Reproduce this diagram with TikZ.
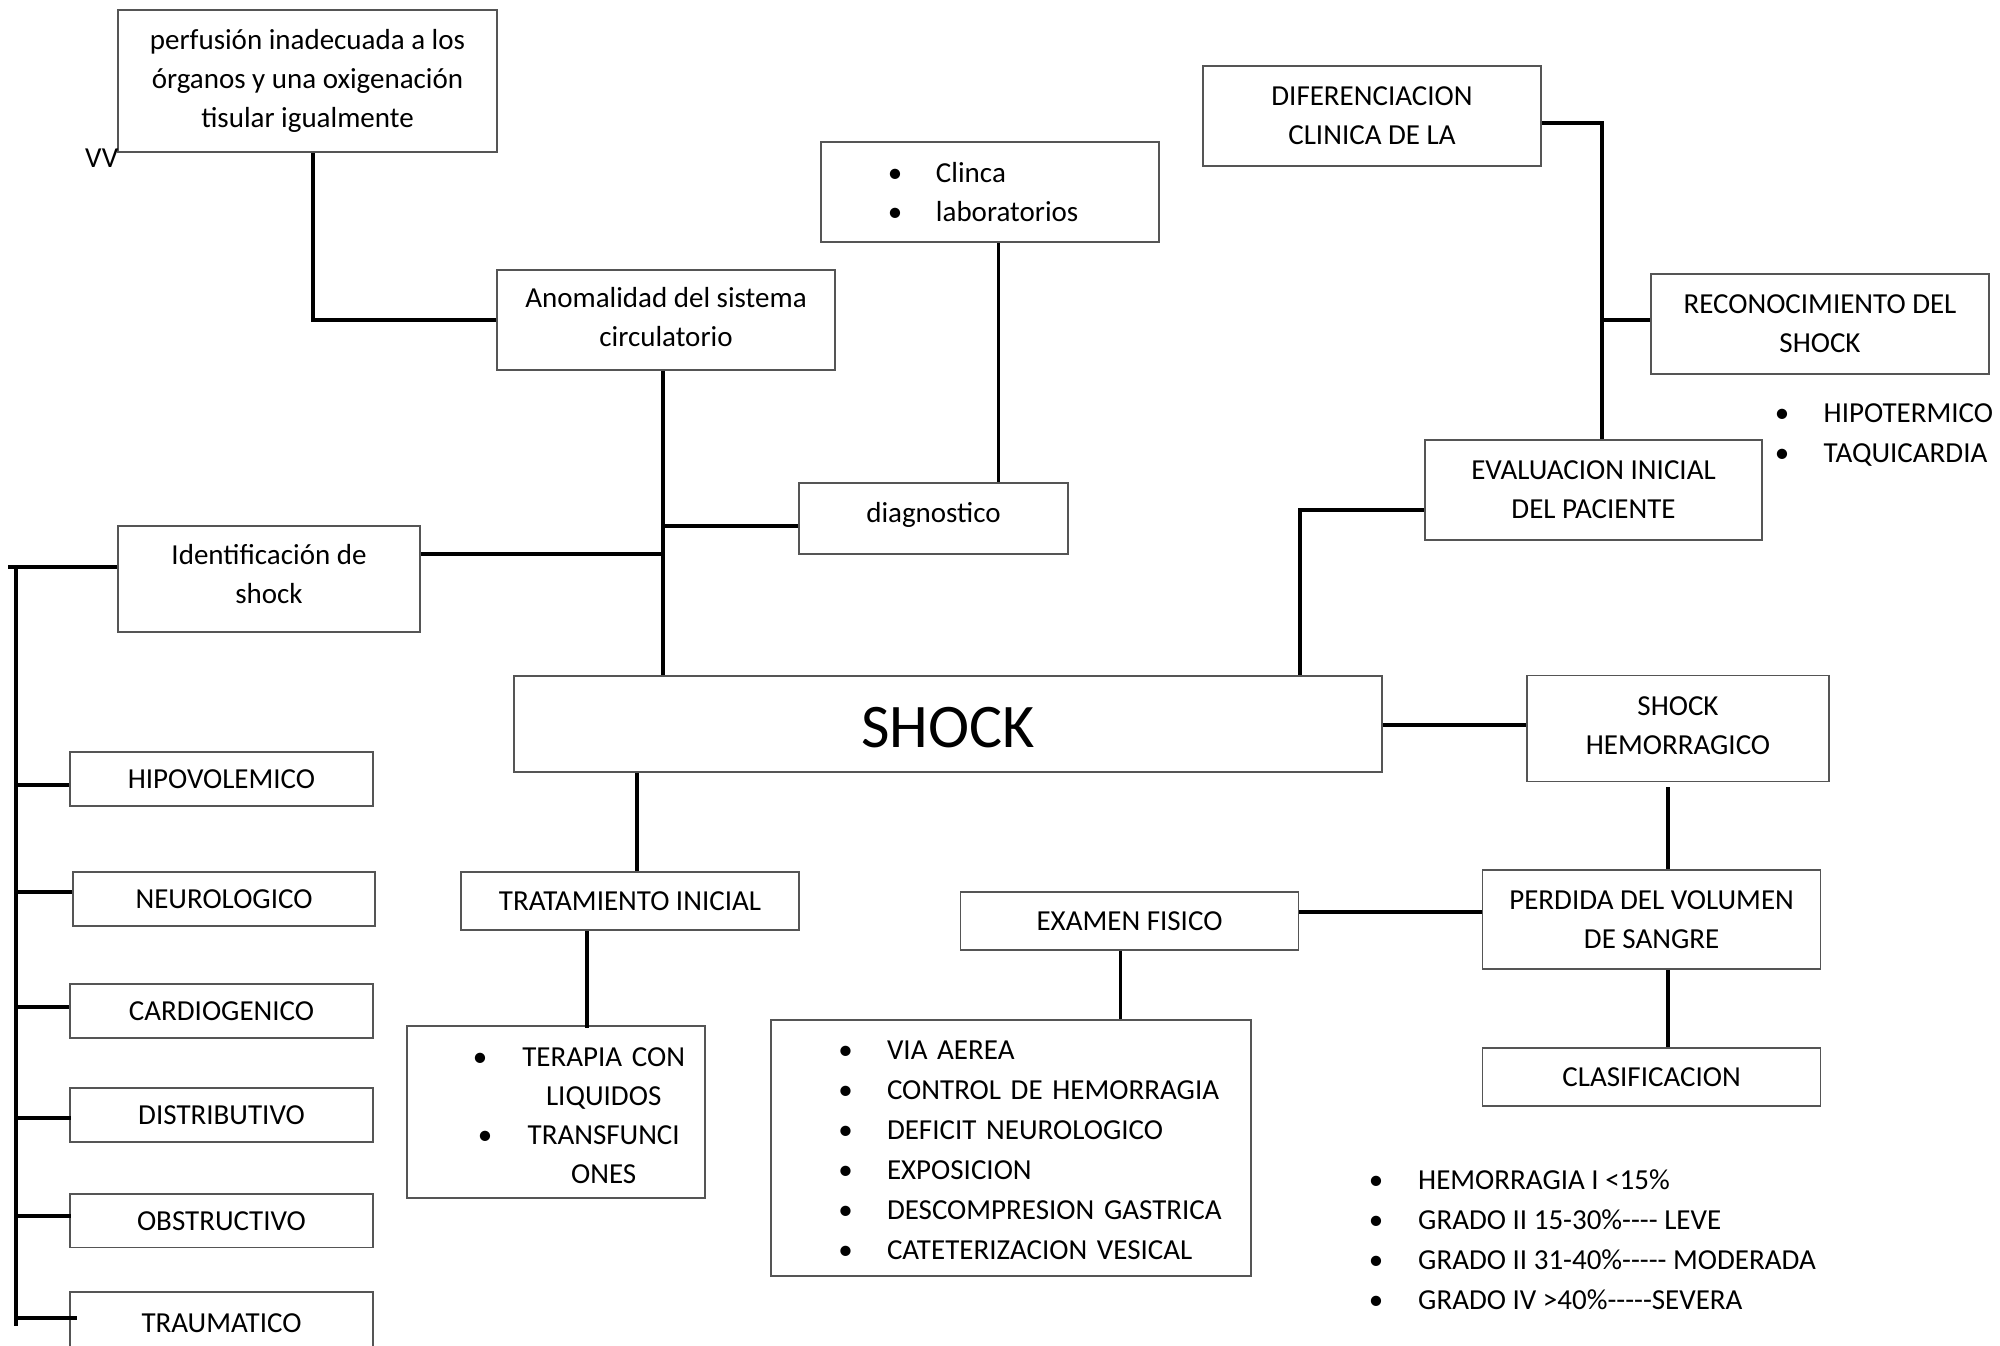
\documentclass[tikz,border=0pt]{standalone}
\usepackage{fontspec}
\setmainfont{Carlito}
\definecolor{boxgray}{RGB}{85,85,85}
\newcommand{\bul}{\makebox[20pt][c]{\textbullet}}
\newcommand{\vsh}[2]{\raisebox{#1}[\height][\depth]{#2}}
\begin{document}
\begin{tikzpicture}[x=1pt,y=-1pt,
  box/.style={draw=boxgray, line width=1.7pt, fill=white, inner sep=0pt, align=center,
              font=\fontsize{29}{39}\selectfont},
  openbox/.style={inner sep=0pt, align=center, font=\fontsize{29}{39}\selectfont},
  boxline/.style={draw=boxgray, line width=1.7pt},
  conn/.style={line width=4pt, black},
  thinconn/.style={line width=3.2pt, black},
  lbl/.style={inner sep=0pt, align=left, font=\fontsize{29}{39.5}\selectfont}
]
\useasboundingbox (0,0) rectangle (2000,1345);

% ---------- boxes ----------
\node[box, minimum width=379, minimum height=142] (perf) at (307.5,81)
  {perfusión inadecuada a los\\órganos y una oxigenación\\tisular igualmente};
\node[box, minimum width=338, minimum height=100] (anom) at (666,320)
  {\vsh{2.5pt}{Anomalidad del sistema}\\\vsh{2.5pt}{circulatorio}};
\node[box, text width=338, align=left, minimum height=100] (clinca) at (990,192)
  {\hspace*{64pt}\bul\hspace*{31pt}Clinca\\\hspace*{64pt}\bul\hspace*{31pt}laboratorios};
\node[box, minimum width=269, minimum height=71] (diag) at (933.5,518.5) {\vsh{4pt}{diagnostico}};
\node[box, minimum width=302.5, minimum height=106] (ident) at (269,579)
  {\vsh{5pt}{Identificación de}\\\vsh{5pt}{shock}};
\node[box, minimum width=338.5, minimum height=100.5] (dif) at (1372,116)
  {DIFERENCIACION\\CLINICA DE LA};
\node[box, minimum width=338, minimum height=100.4] (recon) at (1820,324)
  {RECONOCIMIENTO DEL\\SHOCK};
\node[box, minimum width=337, minimum height=100.5] (eval) at (1593.5,490)
  {EVALUACION INICIAL\\DEL PACIENTE};
\node[box, minimum width=868, minimum height=96, font=\fontsize{62}{70}\selectfont] (shock) at (948,724) {\vsh{-4pt}{SHOCK}};
\node[box, minimum width=301.6, minimum height=106] (shemo) at (1678,728.6)
  {\vsh{2.5pt}{SHOCK}\\\vsh{2.5pt}{HEMORRAGICO}};
\node[box, minimum width=337.5, minimum height=58] (trat) at (630,901) {TRATAMIENTO INICIAL};
\node[box, text width=298.4, align=left, minimum height=172] (terapia) at (556,1112)
  {\hspace*{63.4pt}\vsh{-4pt}{\bul}\hspace*{23.5pt}\makebox[180pt][c]{\vsh{-4pt}{TERAPIA CON}}\\
   \hspace*{106.9pt}\makebox[180pt][c]{\vsh{-4pt}{LIQUIDOS}}\\
   \hspace*{68.4pt}\vsh{-4pt}{\bul}\hspace*{18.5pt}\makebox[180pt][c]{\vsh{-4pt}{TRANSFUNCI}}\\
   \hspace*{106.9pt}\makebox[180pt][c]{\vsh{-4pt}{ONES}}};
\node[box, minimum width=338, minimum height=58] (examen) at (1129.5,921) {EXAMEN FISICO};
\node[box, text width=480, align=left, minimum height=256, font=\fontsize{29}{40}\selectfont] (via) at (1010.7,1147.9)
  {\hspace*{65pt}\vsh{-2.5pt}{\bul}\hspace*{31.3pt}\vsh{-2.5pt}{VIA AEREA}\\
   \hspace*{65pt}\vsh{-2.5pt}{\bul}\hspace*{31.3pt}\vsh{-2.5pt}{CONTROL DE HEMORRAGIA}\\
   \hspace*{65pt}\vsh{-2.5pt}{\bul}\hspace*{31.3pt}\vsh{-2.5pt}{DEFICIT NEUROLOGICO}\\
   \hspace*{65pt}\vsh{-2.5pt}{\bul}\hspace*{31.3pt}\vsh{-2.5pt}{EXPOSICION}\\
   \hspace*{65pt}\vsh{-2.5pt}{\bul}\hspace*{31.3pt}\vsh{-2.5pt}{DESCOMPRESION GASTRICA}\\
   \hspace*{65pt}\vsh{-2.5pt}{\bul}\hspace*{31.3pt}\vsh{-2.5pt}{CATETERIZACION VESICAL}};
\node[box, minimum width=338, minimum height=99] (perdida) at (1651.6,919.5)
  {PERDIDA DEL VOLUMEN\\DE SANGRE};
\node[box, minimum width=338, minimum height=57.7] (clasif) at (1651.6,1077) {CLASIFICACION};

\node[box, minimum width=303, minimum height=54] (hipov) at (221.5,779) {HIPOVOLEMICO};
\node[box, minimum width=302, minimum height=54] (neuro) at (224,899) {NEUROLOGICO};
\node[box, minimum width=303, minimum height=54] (cardio) at (221.5,1011) {CARDIOGENICO};
\node[box, minimum width=303, minimum height=54] (distri) at (221.5,1115) {DISTRIBUTIVO};
\node[box, minimum width=303, minimum height=53.5] (obstr) at (221.5,1220.75) {OBSTRUCTIVO};
\node[openbox, minimum width=303, minimum height=62] (trauma) at (221.5,1323) {TRAUMATICO};
\draw[boxline] (trauma.south west) |- (trauma.north east) -- (trauma.south east);

% ---------- free texts ----------
\node[lbl, anchor=base west] (vv) at (85,167) {VV};
\node[lbl, anchor=west] (signs) at (1772,435)
  {\bul\hspace*{31.5pt}HIPOTERMICO\\\bul\hspace*{31.5pt}TAQUICARDIA};
\node[lbl, anchor=west, font=\fontsize{29}{40}\selectfont] (grades) at (1365.8,1239.5)
  {\bul\hspace*{32.2pt}HEMORRAGIA I <15\%\\
   \bul\hspace*{32.2pt}GRADO II 15-30\%-{}-{}-{}- LEVE\\
   \bul\hspace*{32.2pt}GRADO II 31-40\%-{}-{}-{}-{}- MODERADA\\
   \bul\hspace*{32.2pt}GRADO IV >40\%-{}-{}-{}-{}-SEVERA};

% ---------- junction coordinates ----------
\coordinate (jA) at (663,526);
\coordinate (jB) at (663,553.5);
\coordinate (xcl) at (998.5,0);
\coordinate (xr) at (1602,0);
\coordinate (xs) at (1299.5,0);
\coordinate (xp) at (1668,0);
\coordinate (xt) at (637,0);
\coordinate (xu) at (587,0);
\coordinate (lt) at (8,567);
\coordinate (vt) at (16,567);
\coordinate (vb) at (16,1326);

% ---------- connectors ----------
\draw[conn] ([xshift=5pt]perf.south) |- (anom.west);
\draw[conn] ([xshift=-3pt]anom.south) -- ([xshift=-3pt]anom.south |- shock.north);
\draw[conn] (diag.west |- jA) -- (jA);
\draw[conn] (ident.east |- jB) -- (jB);
\draw[thinconn] (clinca.south -| xcl) -- (diag.north -| xcl);
\draw[conn] ([yshift=-7pt]dif.east) -| (eval.north -| xr);
\draw[conn] ([yshift=4pt]recon.west -| xr) -- ([yshift=4pt]recon.west);
\draw[conn] ([yshift=-20pt]eval.west) -| (shock.north -| xs);
\draw[conn] ([yshift=-1pt]shock.east) -- ([yshift=-1pt]shock.east -| shemo.west);
\draw[thinconn] ([yshift=-5pt]shemo.south -| xp) -- (perdida.north -| xp);
\draw[conn] ([yshift=8pt]perdida.west) -- ([yshift=8pt]perdida.west -| examen.east);
\draw[thinconn] ([xshift=-9pt]examen.south) -- ([xshift=-9pt]examen.south |- via.north);
\draw[thinconn] (perdida.south -| xp) -- (clasif.north -| xp);
\draw[conn] (shock.south -| xt) -- (trat.north -| xt);
\draw[conn] (trat.south -| xu) -- ([yshift=-3pt]terapia.north -| xu);

\draw[conn] ([yshift=12pt]ident.west) -- (lt);
\draw[conn] (vt) -- (vb);
\draw[conn] ([yshift=-6pt]hipov.west -| vb) -- ([yshift=-6pt]hipov.west);
\draw[conn] ([yshift=7.4pt]neuro.west -| vb) -- ([yshift=7.4pt]neuro.west);
\draw[conn] ([yshift=4pt]cardio.west -| vb) -- ([yshift=4pt]cardio.west);
\draw[conn] ([yshift=-2.6pt]distri.west -| vb) -- ([yshift=-2.6pt,xshift=2pt]distri.west);
\draw[conn] ([yshift=5pt]obstr.west -| vb) -- ([yshift=5pt,xshift=2pt]obstr.west);
\draw[conn] ([yshift=5pt]trauma.west -| vb) -- ([yshift=5pt,xshift=7pt]trauma.west);
\end{tikzpicture}
\end{document}
